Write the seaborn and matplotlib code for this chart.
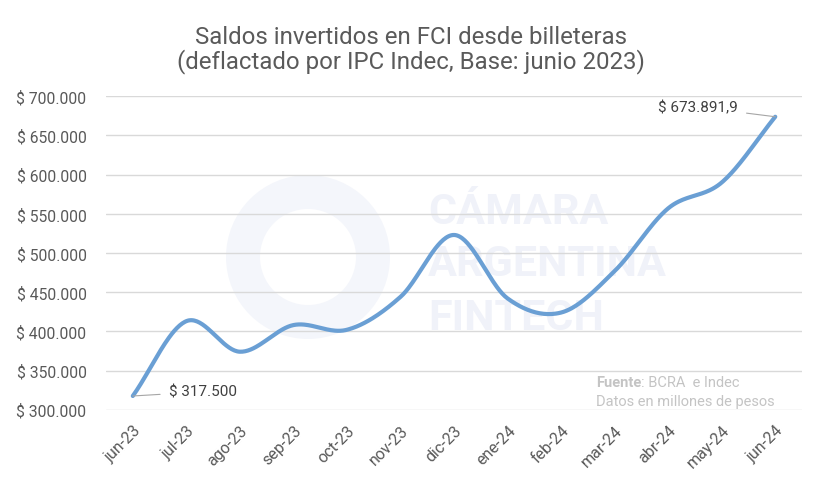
import numpy as np
import pandas as pd
import matplotlib.pyplot as plt
import matplotlib.ticker as mticker
from matplotlib.patches import Circle
import seaborn as sns

meses = ["jun-23", "jul-23", "ago-23", "sep-23", "oct-23", "nov-23", "dic-23",
         "ene-24", "feb-24", "mar-24", "abr-24", "may-24", "jun-24"]
saldos = [317500, 413000, 374000, 408000, 402000, 444000, 523000,
          442000, 424000, 477000, 557000, 590000, 673891.9]
y_ticks = [300000, 350000, 400000, 450000, 500000, 550000, 600000, 650000, 700000]

LINE_CLR = "#6a9fd4"
TXT_CLR = "#595959"
GRID_CLR = "#d9d9d9"


def catmull_rom(y, n=40):
    # curva suavizada tipo Excel entre los puntos reales
    y = np.asarray(y, dtype=float)
    p = np.concatenate([[2 * y[0] - y[1]], y, [2 * y[-1] - y[-2]]])
    xs, ys = [], []
    for i in range(len(y) - 1):
        p0, p1, p2, p3 = p[i], p[i + 1], p[i + 2], p[i + 3]
        t = np.linspace(0, 1, n, endpoint=False)
        yy = 0.5 * ((2 * p1) + (-p0 + p2) * t + (2 * p0 - 5 * p1 + 4 * p2 - p3) * t ** 2
                    + (-p0 + 3 * p1 - 3 * p2 + p3) * t ** 3)
        xs.append(i + t)
        ys.append(yy)
    xs.append([len(y) - 1])
    ys.append([y[-1]])
    return np.concatenate(xs), np.concatenate(ys)


sns.set_theme(style="white")
plt.rcParams["font.family"] = ["Roboto", "DejaVu Sans"]

fig = plt.figure(figsize=(8.22, 4.85), dpi=100)
fig.patch.set_facecolor("white")
ax = fig.add_axes([0.129, 0.1532, 0.8467, 0.6462])
ax.set_zorder(2)
ax.patch.set_alpha(0)

# marca de agua (en píxeles para que el círculo sea redondo), detrás del gráfico
cx, cy = 308, 485 - 258
fig.patches.append(Circle((cx, cy), 82, transform=None,
                          facecolor="#f4f6fb", edgecolor="none", zorder=-2))
fig.patches.append(Circle((cx, cy), 48, transform=None,
                          facecolor="white", edgecolor="none", zorder=-1))
for i, w in enumerate(["CÁMARA", "ARGENTINA", "FINTECH"]):
    fig.text(428 / 822, 1 - (212 + 53 * i) / 485, w, fontsize=31, fontweight="bold",
             color="#f0f2f9", ha="left", va="center", zorder=-1)

xs, ys = catmull_rom(saldos)
df = pd.DataFrame({"x": xs, "y": ys})
sns.lineplot(data=df, x="x", y="y", ax=ax, color=LINE_CLR, linewidth=3,
             solid_capstyle="round", zorder=3)

ax.set_xlim(-0.5, len(meses) - 0.5)
ax.set_ylim(y_ticks[0], y_ticks[-1])
ax.set_yticks(y_ticks)
ax.yaxis.set_major_formatter(mticker.FuncFormatter(
    lambda v, _: "$ " + f"{v:,.0f}".replace(",", ".")))
ax.set_xticks(range(len(meses)))
ax.set_xticklabels(meses, rotation=45, ha="right", rotation_mode="anchor")
ax.tick_params(axis="y", length=0, pad=14, labelsize=11.3, labelcolor=TXT_CLR)
ax.tick_params(axis="x", length=0, pad=9, labelsize=11.5, labelcolor=TXT_CLR)
ax.set_xlabel("")
ax.set_ylabel("")
ax.yaxis.grid(True, color=GRID_CLR, linewidth=1)
ax.xaxis.grid(False)
for s in ax.spines.values():
    s.set_visible(False)

# etiquetas de primer y último valor
ax.annotate("$ 317.500", xy=(0, saldos[0]), xytext=(26, 3), textcoords="offset points",
            fontsize=11, color="#404040", ha="left", va="center",
            arrowprops=dict(arrowstyle="-", color="#a6a6a6", lw=0.8,
                            shrinkA=4, shrinkB=0))
ax.annotate("$ 673.891,9", xy=(12, saldos[-1]), xytext=(-27, 7), textcoords="offset points",
            fontsize=11, color="#404040", ha="right", va="center",
            arrowprops=dict(arrowstyle="-", color="#a6a6a6", lw=0.8,
                            shrinkA=4, shrinkB=0))

fig.text(0.5, 1 - 37 / 485, "Saldos invertidos en FCI desde billeteras",
         ha="center", va="center", fontsize=17.3, color="#5a5a5a")
fig.text(0.5, 1 - 62 / 485, "(deflactado por IPC Indec, Base: junio 2023)",
         ha="center", va="center", fontsize=17.3, color="#5a5a5a")

fig.text(596 / 822, 1 - 383 / 485, "Fuente", ha="left", va="center",
         fontsize=10.5, fontweight="bold", color="#c4c4c4", zorder=3)
fig.text(641 / 822, 1 - 383 / 485, ": BCRA  e Indec", ha="left", va="center",
         fontsize=10.5, color="#c4c4c4", zorder=3)
fig.text(596 / 822, 1 - 402 / 485, "Datos en millones de pesos", ha="left", va="center",
         fontsize=10.5, color="#c4c4c4", zorder=3)

fig.savefig("out.png", dpi=100, facecolor="white")
